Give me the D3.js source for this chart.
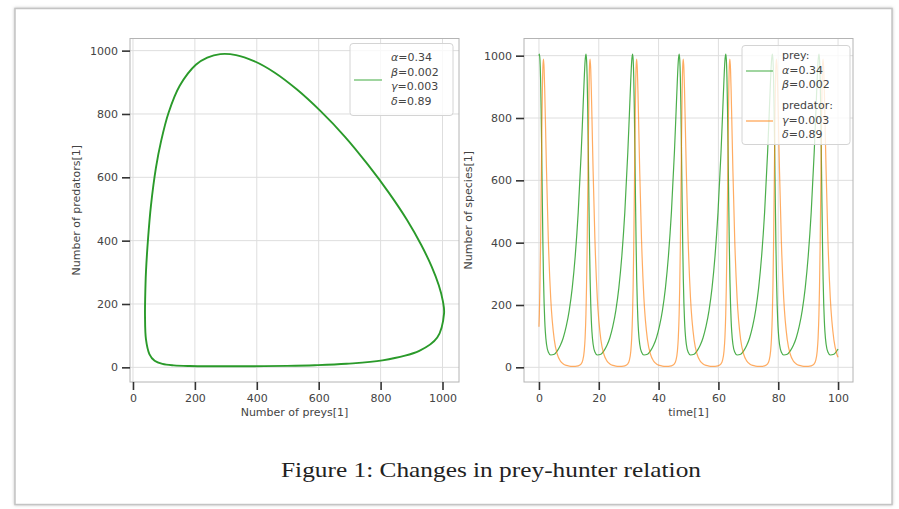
<!DOCTYPE html>
<html><head><meta charset="utf-8">
<script src="https://cdn.jsdelivr.net/npm/d3@7"></script>
<style>body{margin:0;background:#fff;} svg{display:block;}</style>
</head><body><svg id="c" width="899" height="509"></svg>
<script>
// ---------- data ----------
const preyTicks = [0, 200, 400, 600, 800, 1000];
const countTicks = [0, 200, 400, 600, 800, 1000];
const timeTicks = [0, 20, 40, 60, 80, 100];

// phase loop (prey vs predator), one cycle
const preyLoop = [1005,1001,988,965,931,885,827,759,685,607,530,457,391,333,282,240,204,151,115,91,74,58,49,42,39.5,38.9,42,53,70,95,132,183,255,357,498,587,690,806,925,983];
const predLoop = [170,210,259,318,387,466,551,640,728,808,877,931,967,986,989,978,956,889,804,715,629,510,410,302,222,163,88,42,20.5,10.7,6.1,4.0,3.2,3.2,4.7,6.7,11.2,22,52,94];

// time series
const time = [0,
 0.13,0.33,0.53,0.73,0.93,1.13,1.33,1.53,1.73,1.93,2.13,2.53,3.13,3.93,5.13,6.13,7.13,8.13,9.13,10.13,11.13,12.13,13.13,14.13,14.63,15.13,15.43,
 15.71,15.91,16.11,16.31,16.51,16.71,16.91,17.11,17.31,17.51,17.71,18.11,18.71,19.51,20.71,21.71,22.71,23.71,24.71,25.71,26.71,27.71,28.71,29.71,30.21,30.71,31.01,
 31.29,31.49,31.69,31.89,32.09,32.29,32.49,32.69,32.89,33.09,33.29,33.69,34.29,35.09,36.29,37.29,38.29,39.29,40.29,41.29,42.29,43.29,44.29,45.29,45.79,46.29,46.59,
 46.87,47.07,47.27,47.47,47.67,47.87,48.07,48.27,48.47,48.67,48.87,49.27,49.87,50.67,51.87,52.87,53.87,54.87,55.87,56.87,57.87,58.87,59.87,60.87,61.37,61.87,62.17,
 62.45,62.65,62.85,63.05,63.25,63.45,63.65,63.85,64.05,64.25,64.45,64.85,65.45,66.25,67.45,68.45,69.45,70.45,71.45,72.45,73.45,74.45,75.45,76.45,76.95,77.45,77.75,
 78.03,78.23,78.43,78.63,78.83,79.03,79.23,79.43,79.63,79.83,80.03,80.43,81.03,81.83,83.03,84.03,85.03,86.03,87.03,88.03,89.03,90.03,91.03,92.03,92.53,93.03,93.33,
 93.61,93.81,94.01,94.21,94.41,94.61,94.81,95.01,95.21,95.41,95.61,96.01,96.61,97.41,98.61,99.61,100];
const prey = [1000,
 1005,988,931,827,685,530,391,282,204,151,115,74,49,39.5,42,53,70,95,132,183,255,357,498,690,806,925,983,
 1005,988,931,827,685,530,391,282,204,151,115,74,49,39.5,42,53,70,95,132,183,255,357,498,690,806,925,983,
 1005,988,931,827,685,530,391,282,204,151,115,74,49,39.5,42,53,70,95,132,183,255,357,498,690,806,925,983,
 1005,988,931,827,685,530,391,282,204,151,115,74,49,39.5,42,53,70,95,132,183,255,357,498,690,806,925,983,
 1005,988,931,827,685,530,391,282,204,151,115,74,49,39.5,42,53,70,95,132,183,255,357,498,690,806,925,983,
 1005,988,931,827,685,530,391,282,204,151,115,74,49,39.5,42,53,70,95,132,183,255,357,498,690,806,925,983,
 1005,988,931,827,685,530,391,282,204,151,115,74,49,39.5,42,53,59];
const predator = [130,
 170,259,387,551,728,877,967,989,956,889,804,629,410,222,88,42,20.5,10.7,6.1,4.0,3.2,3.2,4.7,11.2,22,52,94,
 170,259,387,551,728,877,967,989,956,889,804,629,410,222,88,42,20.5,10.7,6.1,4.0,3.2,3.2,4.7,11.2,22,52,94,
 170,259,387,551,728,877,967,989,956,889,804,629,410,222,88,42,20.5,10.7,6.1,4.0,3.2,3.2,4.7,11.2,22,52,94,
 170,259,387,551,728,877,967,989,956,889,804,629,410,222,88,42,20.5,10.7,6.1,4.0,3.2,3.2,4.7,11.2,22,52,94,
 170,259,387,551,728,877,967,989,956,889,804,629,410,222,88,42,20.5,10.7,6.1,4.0,3.2,3.2,4.7,11.2,22,52,94,
 170,259,387,551,728,877,967,989,956,889,804,629,410,222,88,42,20.5,10.7,6.1,4.0,3.2,3.2,4.7,11.2,22,52,94,
 170,259,387,551,728,877,967,989,956,889,804,629,410,222,88,42,32];

const legendLeft = [["α","=0.34"],["β","=0.002"],["γ","=0.003"],["δ","=0.89"]];
const legendPrey = [["","prey:"],["α","=0.34"],["β","=0.002"]];
const legendPred = [["","predator:"],["γ","=0.003"],["δ","=0.89"]];
const caption = "Figure 1: Changes in prey-hunter relation";

// ---------- drawing ----------
const svg = d3.select("#c");
const GREEN = "#2ca02c", ORANGE = "#ff7f0e";
const FONT = "DejaVu Sans, sans-serif";

// card
const defs = svg.append("defs");
const f = defs.append("filter").attr("id","sh").attr("x","-5%").attr("y","-5%").attr("width","110%").attr("height","110%");
f.append("feDropShadow").attr("dx",0).attr("dy",0).attr("stdDeviation",1.5).attr("flood-color","#999").attr("flood-opacity",0.6);
svg.append("rect").attr("x",15).attr("y",8.5).attr("width",877).attr("height",496)
  .attr("fill","#fff").attr("stroke","#c4c4c4").attr("stroke-width",1.5).attr("filter","url(#sh)");

function panel(x, y, xTickVals, yTickVals, xLabel, yLabel, yLabelX) {
  const g = svg.append("g");
  const [x0, x1] = x.range(), [y0, y1] = y.range();
  // grid
  g.selectAll(".gx").data(xTickVals).join("line")
    .attr("x1", d => x(d)).attr("x2", d => x(d)).attr("y1", y0).attr("y2", y1)
    .attr("stroke", "#dedede").attr("stroke-width", 1);
  g.selectAll(".gy").data(yTickVals).join("line")
    .attr("y1", d => y(d)).attr("y2", d => y(d)).attr("x1", x0).attr("x2", x1)
    .attr("stroke", "#dedede").attr("stroke-width", 1);
  // spines
  g.append("rect").attr("x", x0).attr("y", y1).attr("width", x1 - x0).attr("height", y0 - y1)
    .attr("fill", "none").attr("stroke", "#b4b4b4").attr("stroke-width", 1);
  // axes
  const fmt = d3.format("d");
  const ax = g.append("g").attr("transform", `translate(0,${y0})`)
    .call(d3.axisBottom(x).tickValues(xTickVals).tickFormat(fmt).tickSize(8).tickPadding(4).tickSizeOuter(0));
  const ay = g.append("g").attr("transform", `translate(${x0},0)`)
    .call(d3.axisLeft(y).tickValues(yTickVals).tickFormat(fmt).tickSize(8).tickPadding(4).tickSizeOuter(0));
  [ax, ay].forEach(a => {
    a.select(".domain").remove();
    a.selectAll(".tick line").attr("stroke", "#333").attr("stroke-width", 1.6);
    a.selectAll(".tick text").attr("fill", "#444").style("font-family", FONT).style("font-size", "11px");
  });
  g.append("text").attr("x", (x0 + x1) / 2).attr("y", 416).attr("text-anchor", "middle")
    .style("font-family", FONT).style("font-size", "11px").attr("fill", "#444").text(xLabel);
  g.append("text").attr("transform", `translate(${yLabelX},${(y0 + y1) / 2}) rotate(-90)`)
    .attr("text-anchor", "middle").style("font-family", FONT).style("font-size", "11px")
    .attr("fill", "#444").text(yLabel);
  return g;
}

function legendText(g, x, yb, items) {
  items.forEach((it, i) => {
    const t = g.append("text").attr("x", x).attr("y", yb + i * 14.5)
      .style("font-family", FONT).style("font-size", "11px").attr("fill", "#444");
    if (it[0]) t.append("tspan").style("font-style", "italic").text(it[0]);
    t.append("tspan").text(it[1]);
  });
}

// left panel
const xL = d3.scaleLinear().domain([-9.6, 1053.3]).range([130, 459]);
const yL = d3.scaleLinear().domain([-46.3, 1038.3]).range([382, 38.5]);
const gL = panel(xL, yL, preyTicks, countTicks, "Number of preys[1]", "Number of predators[1]", 79.5);
const loopPts = preyLoop.map((p, i) => [xL(p), yL(predLoop[i])]);
gL.append("path").attr("d", d3.line().curve(d3.curveCatmullRomClosed.alpha(0.5))(loopPts))
  .attr("fill", "none").attr("stroke", "#2a9a2a").attr("stroke-width", 1.9);
// left legend
gL.append("rect").attr("x", 350).attr("y", 43.5).attr("width", 103).attr("height", 72).attr("rx", 3)
  .attr("fill", "#fff").attr("fill-opacity", 0.8).attr("stroke", "#d4d4d4");
gL.append("line").attr("x1", 354).attr("x2", 382).attr("y1", 80).attr("y2", 80)
  .attr("stroke", GREEN).attr("stroke-width", 1.5).attr("stroke-opacity", 0.6);
legendText(gL, 391, 61, legendLeft);

// right panel
const xR = d3.scaleLinear().domain([-5, 105]).range([524, 853]);
const yR = d3.scaleLinear().domain([-47.1, 1055.1]).range([382, 38.5]);
const gR = panel(xR, yR, timeTicks, countTicks, "time[1]", "Number of species[1]", 472);
const lineR = d3.line().curve(d3.curveMonotoneX);
gR.append("path").attr("d", lineR(time.map((t, i) => [xR(t), yR(prey[i])])))
  .attr("fill", "none").attr("stroke", GREEN).attr("stroke-width", 1.2).attr("stroke-opacity", 0.85);
gR.append("path").attr("d", lineR(time.map((t, i) => [xR(t), yR(predator[i])])))
  .attr("fill", "none").attr("stroke", ORANGE).attr("stroke-width", 1.2).attr("stroke-opacity", 0.65);
// right legend
gR.append("rect").attr("x", 742).attr("y", 45.5).attr("width", 108).attr("height", 99).attr("rx", 3)
  .attr("fill", "#fff").attr("fill-opacity", 0.8).attr("stroke", "#d4d4d4");
gR.append("line").attr("x1", 746).attr("x2", 773).attr("y1", 71).attr("y2", 71)
  .attr("stroke", GREEN).attr("stroke-width", 1.5).attr("stroke-opacity", 0.6);
gR.append("line").attr("x1", 746).attr("x2", 773).attr("y1", 121).attr("y2", 121)
  .attr("stroke", ORANGE).attr("stroke-width", 1.5).attr("stroke-opacity", 0.6);
legendText(gR, 782, 59, legendPrey);
legendText(gR, 782, 109, legendPred);

// caption
svg.append("text").attr("x", 491).attr("y", 477).attr("text-anchor", "middle")
  .attr("textLength", 420).attr("lengthAdjust", "spacingAndGlyphs")
  .style("font-family", "Liberation Serif, DejaVu Serif, serif").style("font-size", "21px")
  .attr("fill", "#222").text(caption);
</script></body></html>
